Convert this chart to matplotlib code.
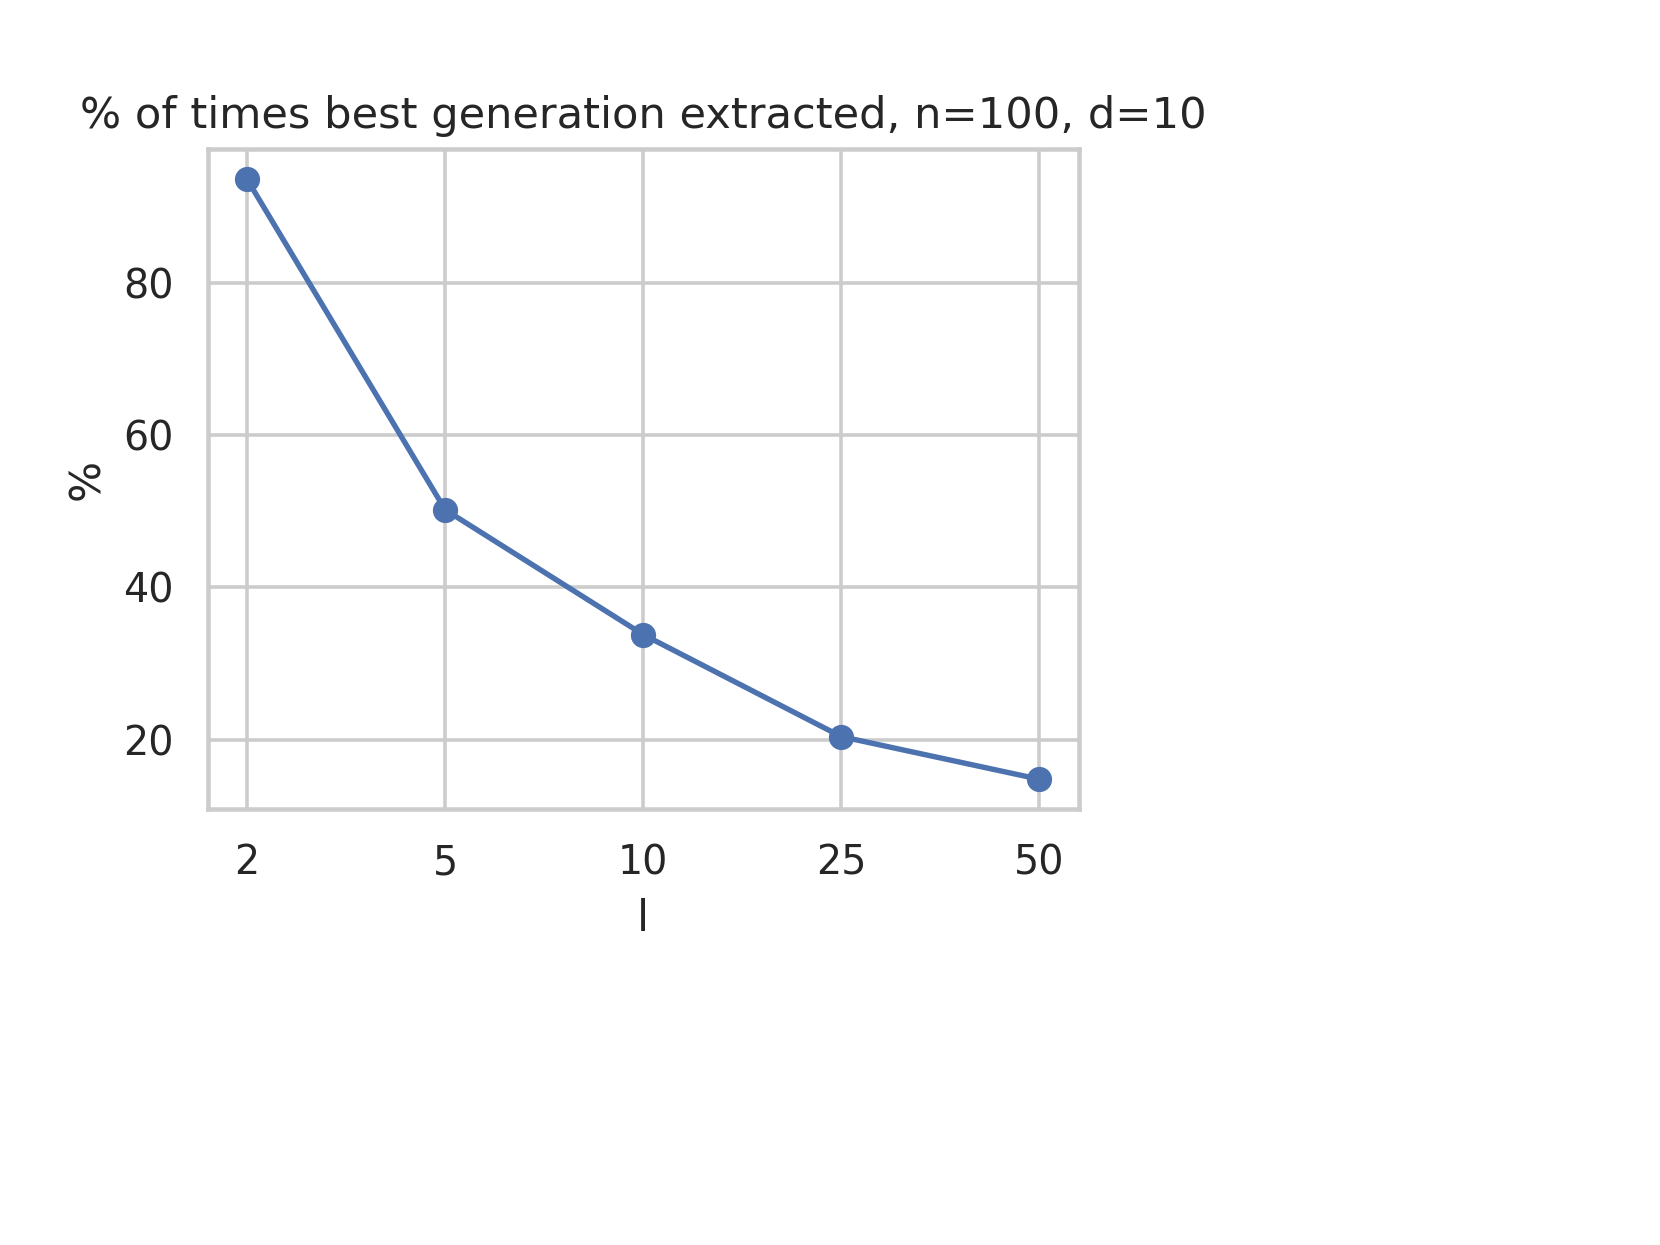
import matplotlib
matplotlib.use("Agg")
import matplotlib.pyplot as plt
import seaborn as sns

sns.set_theme(style="whitegrid")

# l values (categorical) and percentage of times best generation extracted
l_values = ["2", "5", "10", "25", "50"]
pct = [93.6, 50.2, 33.8, 20.4, 14.8]

fig, ax = plt.subplots(figsize=(6.4, 4.8), dpi=259.375)
fig.subplots_adjust(left=0.125, right=0.65, top=0.88, bottom=0.35)

ax.plot(range(len(l_values)), pct, marker="o", color="#4C72B0")
ax.set_xticks(range(len(l_values)))
ax.set_xticklabels(l_values)
ax.set_xlabel("l")
ax.set_ylabel("%")
ax.set_title("% of times best generation extracted, n=100, d=10")

fig.savefig("out.png", dpi=259.375)
